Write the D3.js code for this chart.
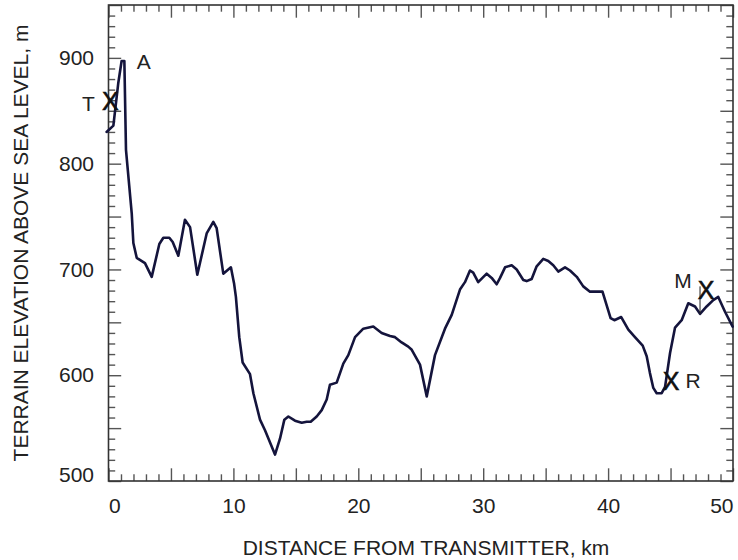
<!DOCTYPE html>
<html>
<head>
<meta charset="utf-8">
<script src="https://cdn.jsdelivr.net/npm/d3@7"></script>
<style>
  html, body { margin: 0; padding: 0; background: #fff; }
  svg { display: block; font-family: "Liberation Sans", Arial, sans-serif; }
</style>
</head>
<body>
<svg id="chart" width="738" height="560"></svg>
<script>
// ---- data ----
const distanceKm = [
  -0.15, 0.39, 0.78, 1.05, 1.27, 1.4, 1.86, 1.99, 2.26, 2.92,
  3.46, 4.07, 4.39, 4.87, 5.14, 5.59, 6.12, 6.53, 7.11, 7.86,
  8.39, 8.66, 9.19, 9.8, 10.05, 10.2, 10.47, 10.74, 11.33, 11.6,
  12.13, 12.53, 13.33, 13.73, 14.08, 14.4, 14.93, 15.47, 15.87, 16.19,
  16.67, 17.07, 17.47, 17.73, 18.27, 18.8, 19.2, 19.74, 20.4, 21.2,
  21.87, 22.54, 22.94, 23.47, 24.0, 24.28, 24.94, 25.48, 26.14, 26.94,
  27.48, 28.14, 28.54, 28.94, 29.2, 29.6, 30.28, 30.68, 31.08, 31.35,
  31.75, 32.28, 32.68, 33.21, 33.48, 33.88, 34.28, 34.81, 35.21, 35.61,
  36.01, 36.55, 36.95, 37.49, 38.01, 38.55, 39.55, 40.2, 40.5, 41.05,
  41.62, 42.15, 42.77, 43.09, 43.35, 43.62, 43.89, 44.29, 44.56, 44.96,
  45.36, 45.89, 46.42, 46.96, 47.36, 47.89, 48.42, 48.82, 49.36, 49.97
];
const elevationM = [
  830, 836, 876, 897, 897, 813, 753, 725, 711, 706,
  693, 724, 730, 730, 726, 713, 747, 740, 695, 734,
  745, 739, 696, 702, 687, 674, 636, 612, 601, 583,
  558, 548, 525, 540, 558, 561, 557, 555, 556, 556,
  561, 567, 577, 591, 593, 611, 619, 636, 644, 646,
  640, 637, 636, 631, 627, 624, 610, 580, 619, 644,
  657, 681, 688, 699, 697, 688, 696, 692, 686, 692,
  702, 704, 700, 690, 689, 691, 703, 710, 708, 704,
  698, 702, 699, 693, 684, 679, 679, 654, 652, 655,
  643, 636, 628, 618, 602, 588, 583, 583, 589, 621,
  645, 652, 668, 665, 658, 665, 671, 674, 660, 646
];
const xTickLabels = [0, 10, 20, 30, 40, 50];
const yTickLabels = [500, 600, 700, 800, 900];

// point markers (X) and their letters
const markKm = [0.15, 45.05, 47.84];
const markM = [859, 594.5, 680.6];
const markLetter = ["T", "R", "M"];
// peak annotation
const peakLetter = "A";
const peakKm = 1.15, peakM = 897;
// M marker stem (km, from/to elevation)
const stemKm = 47.36, stemFromM = 658, stemToM = 684;

const xTitle = "DISTANCE FROM TRANSMITTER, km";
const yTitle = "TERRAIN ELEVATION ABOVE SEA LEVEL, m";

// ---- layout ----
const svg = d3.select("#chart");
const L = 108.5, R = 733, T = 5, B = 481;
const x = d3.scaleLinear().domain([0, 50]).range([L, R]);
const y = d3.scaleLinear().domain([500, 950]).range([B, T]);
const minorLen = 6.7, majorLen = 12.7;
const textColor = "#222";
const tickColor = "#555";
const fontSize = 21;

function styleAxis(g) {
  g.select(".domain").remove();
  g.selectAll(".tick line").attr("stroke", tickColor).attr("stroke-width", 1.4);
  g.selectAll(".tick text").attr("fill", textColor).attr("font-size", fontSize)
    .attr("font-family", "'Liberation Sans', Arial, sans-serif");
}

const xAll = d3.range(0, 51, 1);
const yAll = d3.range(500, 951, 10);

// bottom axis
const gB = svg.append("g").attr("transform", `translate(0,${B})`)
  .call(d3.axisBottom(x).tickValues(xAll).tickSize(-minorLen).tickPadding(17)
    .tickFormat(d => xTickLabels.includes(d) ? d : ""));
styleAxis(gB);
gB.selectAll(".tick line").filter(d => d % 5 === 0).attr("y2", -majorLen);
gB.selectAll(".tick text").filter(d => d === 0).attr("text-anchor", "start");
gB.selectAll(".tick text").filter(d => d === 50).attr("text-anchor", "end");

// top axis
const gT = svg.append("g").attr("transform", `translate(0,${T})`)
  .call(d3.axisTop(x).tickValues(xAll).tickSize(-minorLen).tickFormat(""));
styleAxis(gT);
gT.selectAll(".tick line").filter(d => d % 5 === 0).attr("y2", majorLen);

// left axis
const gL = svg.append("g").attr("transform", `translate(${L},0)`)
  .call(d3.axisLeft(y).tickValues(yAll).tickSize(-minorLen).tickPadding(14.5)
    .tickFormat(d => yTickLabels.includes(d) ? d : ""));
styleAxis(gL);
gL.selectAll(".tick line").filter(d => d % 50 === 0).attr("x2", majorLen);
gL.selectAll(".tick text").filter(d => d === 500).attr("dy", "0");

// right axis
const gR = svg.append("g").attr("transform", `translate(${R},0)`)
  .call(d3.axisRight(y).tickValues(yAll).tickSize(-minorLen).tickFormat(""));
styleAxis(gR);
gR.selectAll(".tick line").filter(d => d % 50 === 0).attr("x2", -majorLen);

// frame
svg.append("rect").attr("x", L).attr("y", T).attr("width", R - L).attr("height", B - T)
  .attr("fill", "none").attr("stroke", "#333").attr("stroke-width", 1.6);

// profile line
const pts = distanceKm.map((d, i) => [d, elevationM[i]]);
svg.append("path").datum(pts)
  .attr("fill", "none").attr("stroke", "#14143c").attr("stroke-width", 2.6)
  .attr("stroke-linejoin", "round").attr("stroke-linecap", "round")
  .attr("d", d3.line().x(d => x(d[0])).y(d => y(d[1])));

// M stem
svg.append("line")
  .attr("x1", x(stemKm)).attr("x2", x(stemKm))
  .attr("y1", y(stemFromM)).attr("y2", y(stemToM))
  .attr("stroke", "#222").attr("stroke-width", 1);

// X markers
svg.selectAll("text.mark").data(markKm).join("text").attr("class", "mark")
  .attr("x", d => x(d)).attr("y", (d, i) => y(markM[i]))
  .attr("text-anchor", "middle").attr("dominant-baseline", "central")
  .attr("font-size", 25).attr("fill", "#111")
  .attr("stroke", "#111").attr("stroke-width", 0.6).text("X");

// letters next to markers
const letterDx = { T: -22, R: 22, M: -23 };
const letterDy = { T: 2, R: -1, M: -9 };
svg.selectAll("text.letter").data(markLetter).join("text").attr("class", "letter")
  .attr("x", (d, i) => x(markKm[i]) + letterDx[d])
  .attr("y", (d, i) => y(markM[i]) + letterDy[d])
  .attr("text-anchor", "middle").attr("dominant-baseline", "central")
  .attr("font-size", fontSize).attr("fill", textColor).text(d => d);

svg.append("text").attr("x", x(peakKm) + 21).attr("y", y(peakM))
  .attr("text-anchor", "middle").attr("dominant-baseline", "central")
  .attr("font-size", fontSize).attr("fill", textColor).text(peakLetter);

// titles
svg.append("text").attr("x", 426).attr("y", 555)
  .attr("text-anchor", "middle").attr("font-size", fontSize).attr("fill", textColor)
  .text(xTitle);
svg.append("text").attr("transform", `translate(28,${(T + B) / 2}) rotate(-90)`)
  .attr("text-anchor", "middle").attr("font-size", fontSize).attr("fill", textColor)
  .text(yTitle);
</script>
</body>
</html>
